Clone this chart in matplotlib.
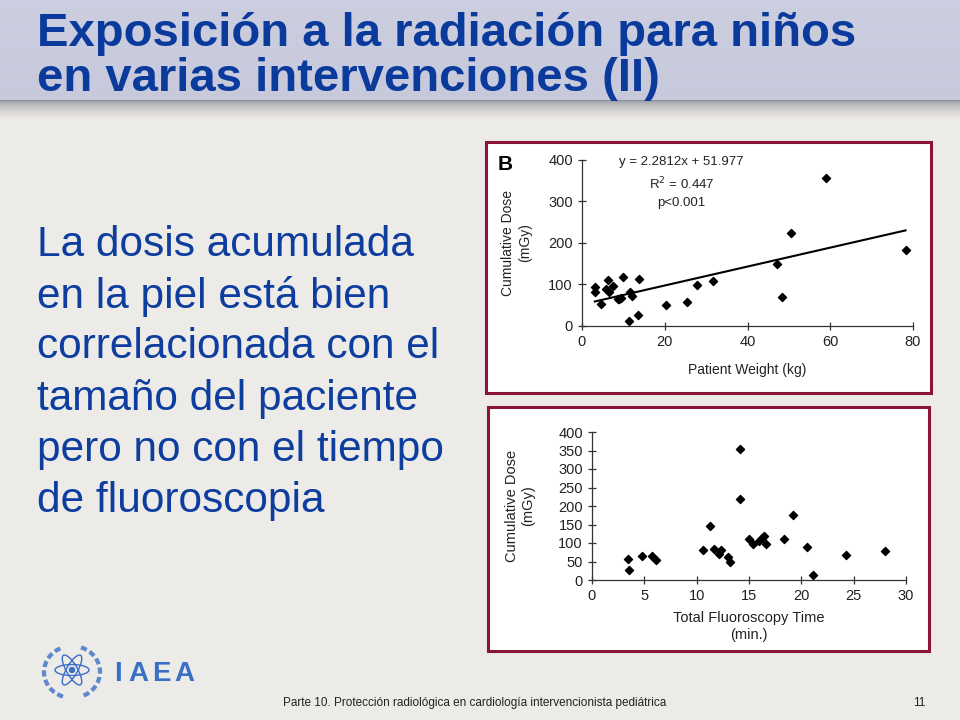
import matplotlib
matplotlib.use("Agg")
import matplotlib.pyplot as plt
import numpy as np
from matplotlib.patches import Rectangle, Ellipse, Arc

# --- data ---
weight_kg = [3.1, 3.1, 4.6, 6.2, 5.8, 6.6, 7.6, 8.6, 9.0, 9.4, 9.8, 11.7, 12.2,
             11.4, 13.5, 13.8, 20.4, 25.3, 27.7, 31.7, 47.1, 48.3, 50.4, 58.9, 78.2]
dose_w = [93, 81, 52, 112, 88, 83, 97, 64, 66, 67, 119, 83, 73,
          12, 27, 113, 51, 59, 99, 109, 149, 70, 224, 356, 182]

fluoro_min = [3.4, 3.5, 4.8, 5.7, 6.1, 10.6, 11.3, 11.7, 12.1, 12.3, 13.0, 13.2,
              14.1, 14.1, 15.0, 15.4, 16.0, 16.2, 16.4, 16.6, 18.3, 19.2, 20.5,
              21.1, 24.3, 28.0]
dose_f = [57, 27, 66, 66, 53, 81, 147, 85, 70, 82, 63, 50,
          353, 219, 110, 97, 106, 113, 118, 96, 111, 177, 89,
          13, 67, 79]

slope, intercept = 2.2812, 51.977
fit_range = [3.1, 78.2]

title_lines = ["Exposición a la radiación para niños", "en varias intervenciones (II)"]
body_lines = ["La dosis acumulada", "en la piel está bien", "correlacionada con el",
              "tamaño del paciente", "pero no con el tiempo", "de fluoroscopia"]
footer = "Parte 10. Protección radiológica en cardiología intervencionista pediátrica"
page_no = "11"

plt.rcParams['font.family'] = ['Liberation Sans', 'DejaVu Sans']

W, H = 960, 720
fig = plt.figure(figsize=(9.6, 7.2), dpi=100)

# background
bg = fig.add_axes([0, 0, 1, 1])
bg.set_xlim(0, W)
bg.set_ylim(H, 0)
bg.axis('off')
bg.add_patch(Rectangle((0, 0), W, H, color='#EDEBE7', zorder=0))
# header band
head = np.linspace(0, 1, 100)[:, None]
head_col = np.ones((100, 1, 3))
top_c = np.array([0.80, 0.81, 0.88])
bot_c = np.array([0.78, 0.79, 0.86])
head_col[:, 0, :] = top_c + (bot_c - top_c) * head
bg.imshow(head_col, extent=(0, W, 105, 0), aspect='auto', zorder=1)
# shadow under header
sh = np.linspace(0, 1, 20)[:, None]
sh_col = np.ones((20, 1, 3))
dark = np.array([0.55, 0.56, 0.60])
light = np.array([0.93, 0.92, 0.90])
sh_col[:, 0, :] = dark + (light - dark) * np.sqrt(sh)
bg.imshow(sh_col, extent=(0, W, 120, 100), aspect='auto', zorder=1)

title_color = '#0A3A9C'
for i, line in enumerate(title_lines):
    bg.text(37, 34 + i * 45, line, fontsize=34, fontweight='bold', color=title_color,
            va='center', ha='left', zorder=3)

for i, line in enumerate(body_lines):
    bg.text(37, 245 + i * 51.2, line, fontsize=30.5, color='#0D3D9E',
            va='center', ha='left', zorder=3)

bg.text(283, 703, footer, fontsize=8.5, color='#222222', va='center', ha='left', zorder=3)
bg.text(913, 703, page_no, fontsize=8.5, color='#222222', va='center', ha='left', zorder=3)

# IAEA logo (rough)
logo_c = '#3A6FC8'
for k, letter in enumerate("IAEA"):
    bg.text(114 + [0, 14, 38, 60][k], 674, letter, fontsize=20, fontweight='bold',
            color=logo_c, va='center', ha='left', zorder=3)
cx, cy = 72, 670
for ang in (0, 60, 120):
    bg.add_patch(Ellipse((cx, cy), 34, 11, angle=ang, fill=False, edgecolor=logo_c,
                         linewidth=1.0, zorder=3))
bg.add_patch(Ellipse((cx, cy), 5, 5, color=logo_c, zorder=3))
bg.add_patch(Arc((cx, cy + 2), 56, 52, theta1=110, theta2=250, edgecolor=logo_c,
                 linewidth=3, linestyle=(0, (1.5, 0.8)), alpha=0.8, zorder=3))
bg.add_patch(Arc((cx, cy + 2), 56, 52, theta1=-70, theta2=70, edgecolor=logo_c,
                 linewidth=3, linestyle=(0, (1.5, 0.8)), alpha=0.8, zorder=3))

# panel frames
for (x0, y0, x1, y1) in [(486, 142, 931, 393), (488, 407, 929, 651)]:
    bg.add_patch(Rectangle((x0, y0), x1 - x0, y1 - y0, facecolor='white',
                           edgecolor='#8A1538', linewidth=2.2, zorder=2))


def px_axes(left, top, right, bottom):
    return fig.add_axes([left / W, 1 - bottom / H, (right - left) / W, (bottom - top) / H])


def style(ax):
    ax.set_facecolor('none')
    for s in ['top', 'right']:
        ax.spines[s].set_visible(False)
    for s in ['left', 'bottom']:
        ax.spines[s].set_color('#333333')
        ax.spines[s].set_linewidth(0.9)
    ax.tick_params(direction='inout', length=6, width=0.9, colors='#333333',
                   labelsize=10.5, labelcolor='#222222')


tc = '#222222'

# top panel
ax1 = px_axes(582, 160, 913, 326)
style(ax1)
ax1.scatter(weight_kg, dose_w, marker='D', s=17, color='black', zorder=3, clip_on=False)
fx = np.array(fit_range)
ax1.plot(fx, slope * fx + intercept, color='black', linewidth=1.5)
ax1.set_xlim(0, 80)
ax1.set_ylim(0, 400)
ax1.set_xticks([0, 20, 40, 60, 80])
ax1.set_yticks([0, 100, 200, 300, 400])
ax1.set_xlabel("Patient Weight (kg)", fontsize=10, color=tc, labelpad=10)
ax1.set_ylabel("Cumulative Dose\n(mGy)", fontsize=10, color=tc, labelpad=12)
ax1.text(0.3, 0.985, f"y = {slope}x + {intercept}", transform=ax1.transAxes,
         fontsize=9.5, color=tc, ha='center', va='center')
ax1.text(0.3, 0.855, "R$^2$ = 0.447", transform=ax1.transAxes,
         fontsize=9.5, color=tc, ha='center', va='center')
ax1.text(0.3, 0.74, "p<0.001", transform=ax1.transAxes,
         fontsize=9.5, color=tc, ha='center', va='center')
bg.text(498, 165, "B", fontsize=15, fontweight='bold', color='black',
        ha='left', va='center', zorder=3)

# bottom panel
ax2 = px_axes(592, 432, 906, 580)
style(ax2)
ax2.scatter(fluoro_min, dose_f, marker='D', s=17, color='black', zorder=3, clip_on=False)
ax2.set_xlim(0, 30)
ax2.set_ylim(0, 400)
ax2.set_xticks([0, 5, 10, 15, 20, 25, 30])
ax2.set_yticks(range(0, 401, 50))
ax2.tick_params(labelsize=10.5)
ax2.set_xlabel("Total Fluoroscopy Time\n(min.)", fontsize=10.5, color=tc, labelpad=6)
ax2.set_ylabel("Cumulative Dose\n(mGy)", fontsize=10.5, color=tc, labelpad=17)

fig.savefig("out.png", dpi=100)
